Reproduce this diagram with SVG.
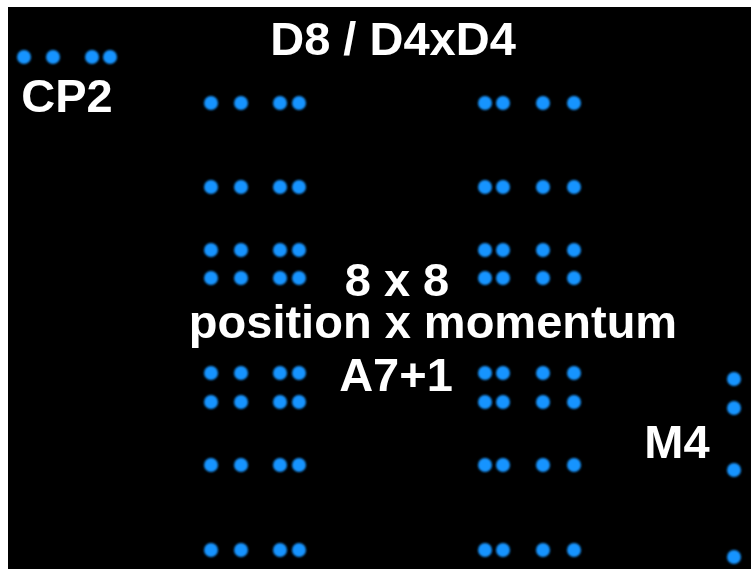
<svg xmlns="http://www.w3.org/2000/svg" width="751" height="569" viewBox="0 0 751 569">
<style>
.t{font-family:"Liberation Sans",Arial,sans-serif;font-weight:bold;font-size:47px;fill:#ffffff;text-anchor:middle}
.d{fill:#1894ff}
</style>
<defs>
<filter id="glow" x="-50%" y="-50%" width="200%" height="200%"><feGaussianBlur stdDeviation="0.9"/></filter>
<circle id="dot" r="7" class="d"/>
</defs>
<rect x="0" y="0" width="751" height="569" fill="#ffffff"/>
<rect x="8" y="7" width="743" height="562" fill="#000000"/>
<g id="dots" filter="url(#glow)">
<g id="cp2-dots">
<use href="#dot" x="24" y="57"/><use href="#dot" x="53" y="57"/><use href="#dot" x="92" y="57"/><use href="#dot" x="110" y="57"/>
</g>
<g id="left-grid">
<use href="#dot" x="211" y="103"/><use href="#dot" x="241" y="103"/><use href="#dot" x="280" y="103"/><use href="#dot" x="299" y="103"/>
<use href="#dot" x="211" y="187"/><use href="#dot" x="241" y="187"/><use href="#dot" x="280" y="187"/><use href="#dot" x="299" y="187"/>
<use href="#dot" x="211" y="250"/><use href="#dot" x="241" y="250"/><use href="#dot" x="280" y="250"/><use href="#dot" x="299" y="250"/>
<use href="#dot" x="211" y="278"/><use href="#dot" x="241" y="278"/><use href="#dot" x="280" y="278"/><use href="#dot" x="299" y="278"/>
<use href="#dot" x="211" y="373"/><use href="#dot" x="241" y="373"/><use href="#dot" x="280" y="373"/><use href="#dot" x="299" y="373"/>
<use href="#dot" x="211" y="402"/><use href="#dot" x="241" y="402"/><use href="#dot" x="280" y="402"/><use href="#dot" x="299" y="402"/>
<use href="#dot" x="211" y="465"/><use href="#dot" x="241" y="465"/><use href="#dot" x="280" y="465"/><use href="#dot" x="299" y="465"/>
<use href="#dot" x="211" y="550"/><use href="#dot" x="241" y="550"/><use href="#dot" x="280" y="550"/><use href="#dot" x="299" y="550"/>
</g>
<g id="right-grid">
<use href="#dot" x="485" y="103"/><use href="#dot" x="503" y="103"/><use href="#dot" x="543" y="103"/><use href="#dot" x="574" y="103"/>
<use href="#dot" x="485" y="187"/><use href="#dot" x="503" y="187"/><use href="#dot" x="543" y="187"/><use href="#dot" x="574" y="187"/>
<use href="#dot" x="485" y="250"/><use href="#dot" x="503" y="250"/><use href="#dot" x="543" y="250"/><use href="#dot" x="574" y="250"/>
<use href="#dot" x="485" y="278"/><use href="#dot" x="503" y="278"/><use href="#dot" x="543" y="278"/><use href="#dot" x="574" y="278"/>
<use href="#dot" x="485" y="373"/><use href="#dot" x="503" y="373"/><use href="#dot" x="543" y="373"/><use href="#dot" x="574" y="373"/>
<use href="#dot" x="485" y="402"/><use href="#dot" x="503" y="402"/><use href="#dot" x="543" y="402"/><use href="#dot" x="574" y="402"/>
<use href="#dot" x="485" y="465"/><use href="#dot" x="503" y="465"/><use href="#dot" x="543" y="465"/><use href="#dot" x="574" y="465"/>
<use href="#dot" x="485" y="550"/><use href="#dot" x="503" y="550"/><use href="#dot" x="543" y="550"/><use href="#dot" x="574" y="550"/>
</g>
<g id="m4-dots">
<use href="#dot" x="734" y="379"/><use href="#dot" x="734" y="408"/><use href="#dot" x="734" y="470"/><use href="#dot" x="734" y="557"/>
</g>
</g>
<g id="label-d8"><text class="t" x="393" y="55">D8 / D4xD4</text></g>
<g id="label-cp2"><text class="t" x="67" y="112">CP2</text></g>
<g id="label-center">
<text class="t" x="397" y="296">8 x 8</text>
<text class="t" x="433" y="338">position x momentum</text>
<text class="t" x="396" y="391">A7+1</text>
</g>
<g id="label-m4"><text class="t" x="677" y="458">M4</text></g>
</svg>
